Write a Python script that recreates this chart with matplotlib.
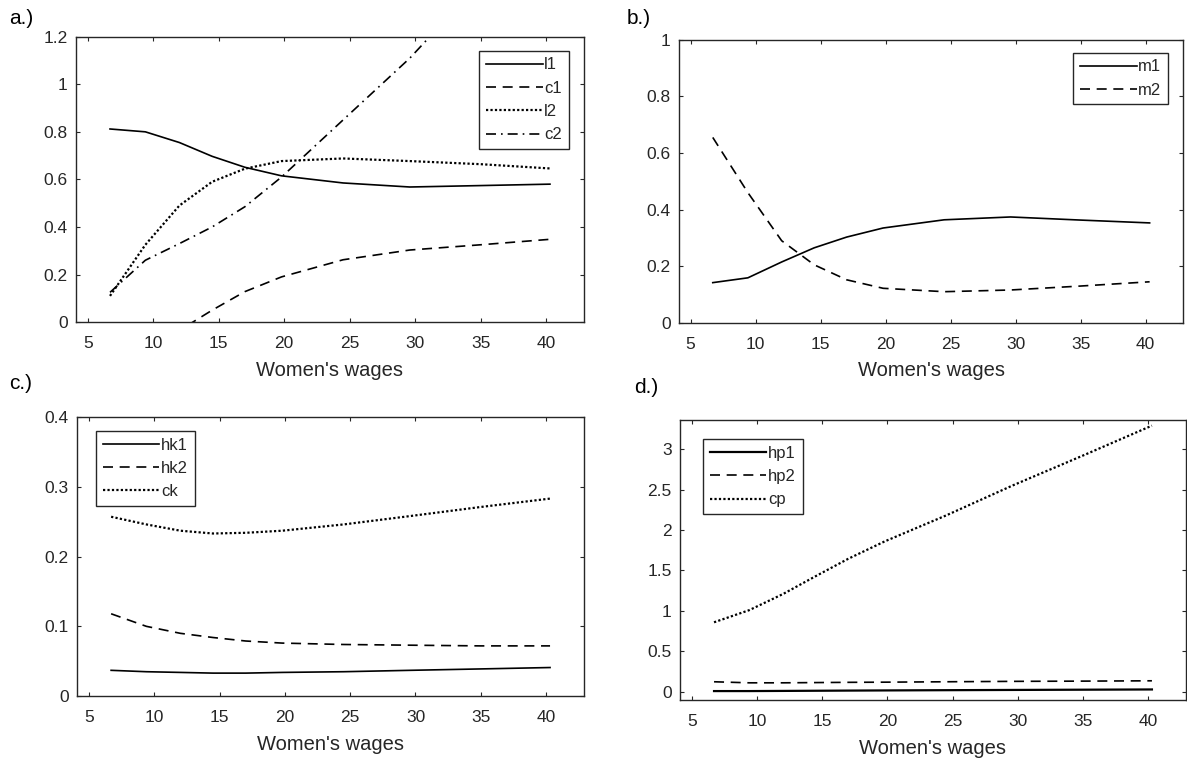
import matplotlib
matplotlib.use("Agg")
import matplotlib.pyplot as plt

plt.rcParams['font.family'] = ['Liberation Sans', 'DejaVu Sans']

# --- DONNEES ---
wages = [6.7, 9.4, 12.0, 14.5, 17.0, 19.8, 24.5, 29.6, 35.0, 40.3]

l1 = [0.812, 0.800, 0.755, 0.697, 0.651, 0.615, 0.585, 0.568, 0.574, 0.580]
c1 = [-0.28, -0.14, -0.035, 0.05, 0.128, 0.190, 0.262, 0.303, 0.325, 0.348]
l2 = [0.110, 0.325, 0.490, 0.590, 0.645, 0.677, 0.688, 0.677, 0.664, 0.646]
c2 = [0.125, 0.260, 0.330, 0.400, 0.485, 0.610, 0.850, 1.110, 1.430, 1.760]

m1 = [0.142, 0.159, 0.215, 0.265, 0.303, 0.335, 0.364, 0.374, 0.363, 0.353]
m2 = [0.655, 0.460, 0.290, 0.205, 0.152, 0.122, 0.110, 0.116, 0.130, 0.145]

hk1 = [0.037, 0.035, 0.034, 0.033, 0.033, 0.034, 0.035, 0.037, 0.039, 0.041]
hk2 = [0.118, 0.100, 0.090, 0.084, 0.079, 0.076, 0.074, 0.073, 0.072, 0.072]
ck = [0.257, 0.246, 0.237, 0.233, 0.234, 0.237, 0.246, 0.258, 0.271, 0.283]

hp1 = [0.010, 0.010, 0.012, 0.014, 0.016, 0.018, 0.021, 0.024, 0.027, 0.030]
hp2 = [0.125, 0.112, 0.112, 0.115, 0.118, 0.120, 0.125, 0.130, 0.133, 0.137]
cp = [0.86, 1.01, 1.21, 1.43, 1.645, 1.86, 2.18, 2.55, 2.92, 3.29]

xticks = [5, 10, 15, 20, 25, 30, 35, 40]

# styles facon MATLAB
SOLID = '-'
DASH = (0, (6, 4))
DOT = (0, (1, 1))
DASHDOT = (0, (6, 3, 1, 3))
GREY = '#262626'

fig = plt.figure(figsize=(11.87, 7.65), dpi=100)


def make_axes(rect, ylim, yticks, yticklabels):
    ax = fig.add_axes(rect)
    ax.set_xlim(4.1, 42.9)
    ax.set_ylim(*ylim)
    ax.set_xticks(xticks)
    ax.set_yticks(yticks)
    ax.set_yticklabels(yticklabels)
    ax.tick_params(direction='in', top=True, right=True, length=3,
                   width=0.8, colors=GREY, labelsize=12.5)
    ax.tick_params(axis='x', pad=10)
    ax.tick_params(axis='y', pad=6)
    for sp in ax.spines.values():
        sp.set_color(GREY)
        sp.set_linewidth(1.0)
    ax.set_xlabel("Women's wages", fontsize=14.5, color=GREY, labelpad=7)
    return ax


def legend(ax, loc, anchor):
    lg = ax.legend(loc=loc, bbox_to_anchor=anchor, fontsize=12,
                   handlelength=3.4, handletextpad=0.1, borderaxespad=0,
                   borderpad=0.4, labelspacing=0.5,
                   fancybox=False, framealpha=1, edgecolor=GREY)
    lg.get_frame().set_linewidth(1.0)
    for t in lg.get_texts():
        t.set_color(GREY)


# a.)
ax = make_axes([0.064, 0.579, 0.428, 0.373], (0, 1.2),
               [0, 0.2, 0.4, 0.6, 0.8, 1.0, 1.2],
               ['0', '0.2', '0.4', '0.6', '0.8', '1', '1.2'])
ax.plot(wages, l1, color='black', lw=1.2, ls=SOLID, label='l1')
ax.plot(wages, c1, color='black', lw=1.2, ls=DASH, label='c1')
ax.plot(wages, l2, color='black', lw=1.6, ls=DOT, label='l2')
ax.plot(wages, c2, color='black', lw=1.2, ls=DASHDOT, label='c2')
legend(ax, 'upper right', (0.970, 0.951))
fig.text(0.008, 0.976, 'a.)', fontsize=15, va='center', ha='left')

# b.)
ax = make_axes([0.572, 0.578, 0.425, 0.370], (0, 1),
               [0, 0.2, 0.4, 0.6, 0.8, 1.0],
               ['0', '0.2', '0.4', '0.6', '0.8', '1'])
ax.plot(wages, m1, color='black', lw=1.2, ls=SOLID, label='m1')
ax.plot(wages, m2, color='black', lw=1.2, ls=DASH, label='m2')
legend(ax, 'upper right', (0.970, 0.954))
fig.text(0.528, 0.976, 'b.)', fontsize=15, va='center', ha='left')

# c.)
ax = make_axes([0.065, 0.090, 0.427, 0.365], (0, 0.4),
               [0, 0.1, 0.2, 0.3, 0.4],
               ['0', '0.1', '0.2', '0.3', '0.4'])
ax.plot(wages, hk1, color='black', lw=1.2, ls=SOLID, label='hk1')
ax.plot(wages, hk2, color='black', lw=1.2, ls=DASH, label='hk2')
ax.plot(wages, ck, color='black', lw=1.6, ls=DOT, label='ck')
legend(ax, 'upper left', (0.0375, 0.950))
fig.text(0.008, 0.499, 'c.)', fontsize=15, va='center', ha='left')

# d.)
ax = make_axes([0.573, 0.085, 0.426, 0.366], (-0.1, 3.36),
               [0, 0.5, 1, 1.5, 2, 2.5, 3],
               ['0', '0.5', '1', '1.5', '2', '2.5', '3'])
ax.plot(wages, hp1, color='black', lw=1.6, ls=SOLID, label='hp1')
ax.plot(wages, hp2, color='black', lw=1.2, ls=DASH, label='hp2')
ax.plot(wages, cp, color='black', lw=1.6, ls=DOT, label='cp')
legend(ax, 'upper left', (0.0455, 0.932))
fig.text(0.534, 0.493, 'd.)', fontsize=15, va='center', ha='left')

fig.savefig('out.png', dpi=100)
